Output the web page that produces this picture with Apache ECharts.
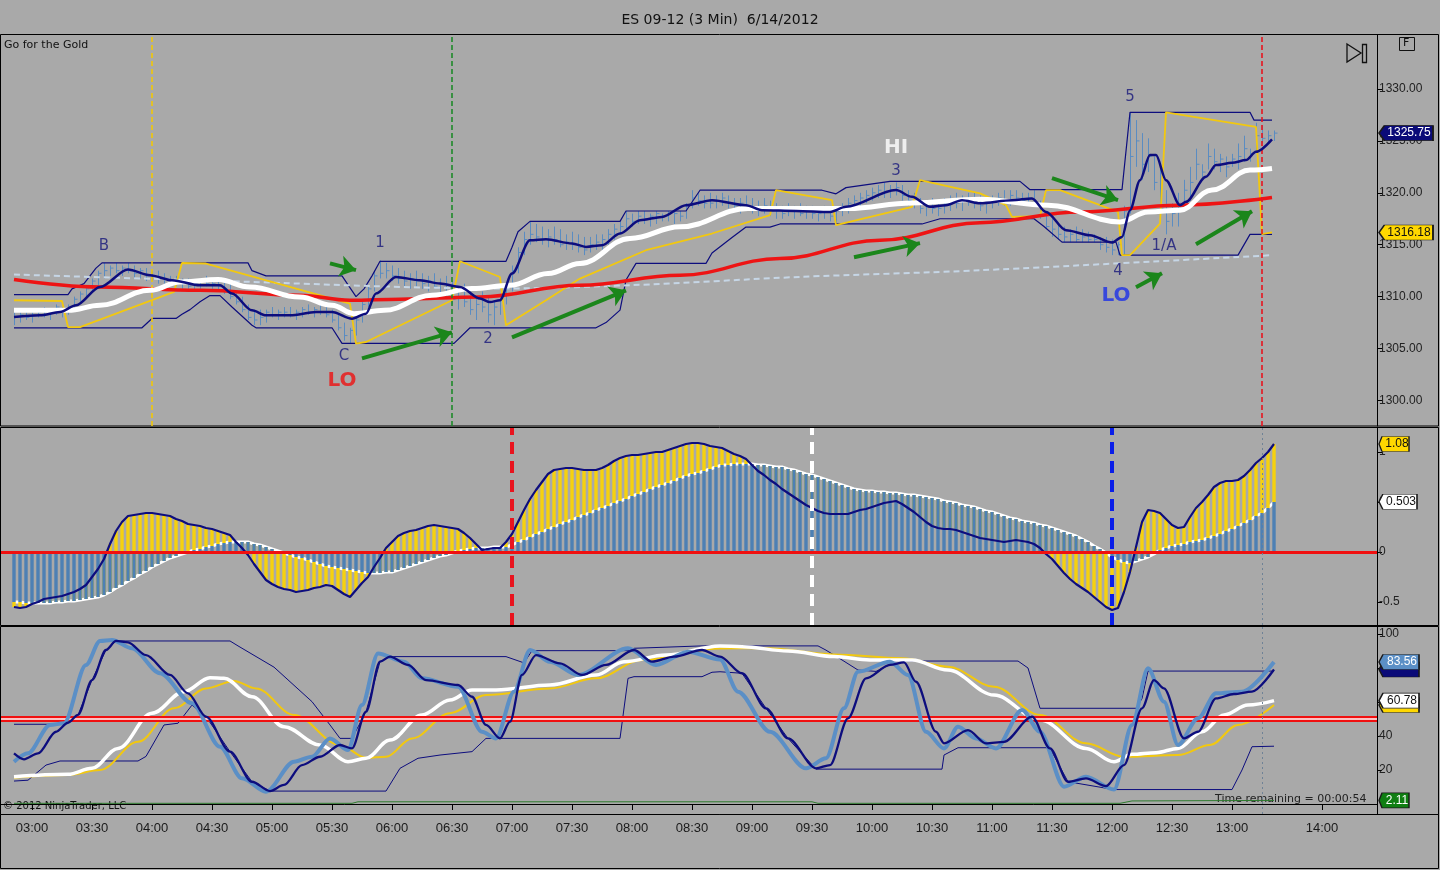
<!DOCTYPE html>
<html><head><meta charset="utf-8">
<script src="https://cdn.jsdelivr.net/npm/echarts/dist/echarts.min.js"></script>
<style>html,body{margin:0;padding:0;background:#a9a9a9;}#c{width:1440px;height:870px;}</style>
</head><body><div id="c"></div>
<script>
// ---------------- DATA ----------------
const chartTitle = 'ES 09-12 (3 Min)  6/14/2012';
const BAR_START = '02:51', BAR_STEP = 3; // 3-minute bars
const barHigh = [1308.75,1308.5,1308.75,1308.5,1308.75,1309,1308.75,1309.25,1309,1309.25,
1310,1310.5,1311,1311.75,1312.5,1313.25,1313,1313.25,1313,1313.25,
1313,1312.75,1312.75,1312.5,1312.5,1312.25,1312,1312,1311.75,1311.75,
1311.5,1311.75,1312,1311.75,1311.5,1311.5,1311.25,1310.5,1310,1309.25,
1308.75,1308.75,1308.75,1309,1308.75,1309,1309,1308.75,1309,1309.25,
1309,1309.25,1309,1308.75,1308.25,1307.5,1307,1308,1309.5,1311,
1312.5,1313.5,1313.25,1313,1312.75,1312.5,1312.25,1312.5,1312.25,1312,
1312.25,1311.75,1312,1311.5,1311,1311.25,1310.5,1310,1310.5,1310,
1309.5,1310.25,1311.25,1313,1314.75,1316.25,1317.25,1317,1316.75,1316.5,
1316.75,1316.5,1316,1316.25,1316,1315.75,1315.75,1316,1316,1316.5,
1317,1317.25,1318.25,1318,1318.25,1318.25,1318,1318.25,1318,1318.25,
1318.25,1318.25,1319,1320.25,1320,1319.75,1320,1319.75,1320,1319.75,
1319.5,1319.5,1319.75,1319.5,1319.25,1319.5,1319.25,1319,1318.75,1319,
1318.75,1319,1318.75,1318.75,1318.5,1318.75,1318.5,1318.5,1319,1319.5,
1319.75,1320,1320.25,1320.5,1320.75,1321,1320.75,1321,1320.75,1320.25,
1320,1319.5,1319.25,1319.5,1319.25,1319.5,1319.75,1320,1319.75,1320,
1320,1319.75,1319.5,1319.75,1320,1320.25,1320.25,1320.25,1320,1320,
1320.25,1319.25,1318.25,1317.5,1317,1316.75,1316.5,1316.75,1316.5,1316.25,
1316,1315.75,1315.75,1315.5,1315.25,1318.75,1327.75,1327,1325.75,1325.25,
1323.5,1322.75,1320.25,1319,1320,1321.25,1322.5,1324.25,1322.75,1324.75,
1324.25,1323.75,1323.5,1323.75,1324.75,1325.5,1324.25,1326.75,1326.5,1326,
1326];
const barLow = [1307.25,1307.5,1307.75,1307.5,1308,1308,1307.75,1308.25,1308,1308.25,
1308.75,1309.5,1309.75,1310.5,1311,1311.75,1312,1312.25,1312,1312.25,
1311.75,1311.75,1311.5,1311.5,1311.25,1311.25,1311,1311,1310.75,1310.75,
1310.5,1310.75,1311,1310.75,1310.5,1310.25,1309.75,1309.25,1308.5,1307.75,
1307.25,1307.25,1307.5,1308,1307.75,1308,1308,1307.75,1308,1308.25,
1308,1308.25,1308,1307.5,1306.75,1305.75,1305.5,1306.25,1307.5,1309,
1310.5,1311.75,1311.75,1311.5,1311.25,1311,1310.75,1311,1310.75,1310.5,
1310.75,1310.25,1310,1309.25,1308.75,1309,1308.25,1307.75,1308.5,1307.5,
1307.25,1308.25,1309.25,1310.5,1312.25,1314,1315,1315.25,1315,1314.75,
1315,1314.75,1314.5,1314.5,1314.25,1314,1314.25,1314.5,1314.5,1315,
1315.5,1316,1316.5,1316.75,1317,1317,1316.75,1317,1317.25,1317.25,
1317,1317.25,1317.5,1318.5,1318.75,1318.5,1318.5,1318.5,1318.75,1318.5,
1318.25,1318,1318.25,1318,1317.75,1318,1317.75,1317.5,1317.5,1317.75,
1317.5,1317.75,1317.5,1317.5,1317.25,1317.5,1317.25,1317,1317.75,1318,
1318.5,1318.75,1319,1319.25,1319.5,1319.5,1319.5,1319.75,1319.25,1318.75,
1318.5,1318,1317.75,1318,1317.75,1318,1318.25,1318.5,1318.25,1318.75,
1318.5,1318.25,1318,1318.5,1318.75,1318.75,1318.75,1319,1318.75,1318.75,
1318.75,1317.5,1316.5,1315.75,1315.5,1315.25,1315.25,1315.25,1315.25,1315.25,
1315.25,1314.5,1314.25,1314,1314,1314,1318,1322.5,1321.25,1322,
1320.25,1318,1316,1316.75,1316.75,1318.5,1319.25,1321.25,1321.5,1322.25,
1322.25,1322,1321.5,1322.5,1322.25,1323,1323,1324,1324.75,1324.75,
1325];
const barClose = [1308,1308.25,1308,1308.25,1308.5,1308.25,1308.5,1309,1308.5,1309,
1309.75,1310.25,1310.75,1311.5,1312.25,1312.5,1312.75,1312.5,1312.75,1312.5,
1312.25,1312.5,1312,1312,1311.75,1311.75,1311.5,1311.25,1311.25,1311,
1311.25,1311.5,1311.25,1311.25,1311,1310.75,1310,1309.5,1308.75,1308,
1307.75,1308,1308.5,1308.25,1308.5,1308.5,1308.25,1308.5,1308.75,1308.5,
1308.75,1308.5,1308.25,1307.75,1307,1306.25,1306.75,1307.75,1309.25,1310.75,
1312,1312.25,1312.5,1312,1311.75,1311.5,1311.75,1311.5,1311.25,1311.5,
1311,1311.25,1310.5,1309.75,1310.5,1309.5,1308.75,1309.25,1309,1308.25,
1309,1309.75,1310.75,1312.5,1314.25,1315.5,1316,1315.75,1315.5,1315.75,
1315.5,1315,1315.25,1315,1314.75,1314.5,1315,1315.25,1315.5,1316,
1316.5,1316.75,1317.5,1317.25,1317.75,1317.5,1317.75,1318,1317.75,1318,
1318,1317.75,1318.75,1319.5,1319.25,1319,1319,1319.25,1319.5,1319,
1318.75,1319,1318.75,1318.5,1318.5,1318.75,1318.25,1318.25,1318,1318.5,
1318.25,1318,1318.25,1318,1318,1318.25,1317.75,1318.25,1318.5,1319,
1319.25,1319.5,1319.75,1320,1320.25,1320,1320.25,1320.5,1319.75,1319.25,
1319,1318.5,1318.75,1318.5,1318.5,1319,1319.25,1319,1319.25,1319.5,
1319,1318.75,1319,1319.25,1319.5,1319.25,1319.75,1319.5,1319.25,1319.5,
1319,1317.75,1316.75,1316.5,1316,1315.75,1316,1315.5,1315.75,1315.5,
1315.5,1315,1314.75,1314.5,1315,1318.25,1323.5,1325,1322.75,1323.5,
1321,1318.5,1317.25,1318,1319,1320.25,1321,1322.75,1322,1323.5,
1323,1323.25,1322.5,1323.25,1323.5,1324.25,1323.75,1325.5,1325.25,1325.5,
1325.75];

// price overlays: [time, price]
const fastMa = [['02:51',1308.04],['03:04',1308.2],['03:14',1308.52],['03:22',1309.17],['03:34',1310.93],['03:48',1312.61],['03:59',1312.06],['04:10',1311.58],['04:24',1311.09],['04:34',1311.09],['04:40',1310.29],['04:50',1308.68],['04:57',1308.2],['05:09',1308.2],['05:22',1308.52],['05:30',1308.52],['05:40',1307.88],['05:47',1308.36],['05:52',1310.29],['06:02',1311.89],['06:14',1311.58],['06:24',1311.26],['06:34',1310.93],['06:44',1309.81],['06:49',1309.48],['06:54',1309.65],['07:00',1312.22],['07:09',1315.43],['07:17',1315.53],['07:30',1315.12],['07:37',1314.79],['07:45',1314.95],['07:54',1316.08],['08:04',1317.36],['08:15',1317.68],['08:27',1318.81],['08:40',1319.29],['08:57',1318.81],['09:05',1318.33],['09:22',1318.26],['09:39',1318.16],['09:47',1318.65],['10:12',1320.26],['10:20',1319.61],['10:29',1318.65],['10:37',1318.81],['10:45',1319.29],['10:54',1319.0],['11:10',1319.29],['11:20',1319.46],['11:27',1318.16],['11:37',1316.4],['11:49',1315.92],['12:00',1315.21],['12:05',1315.75],['12:09',1318.33],['12:14',1321.22],['12:19',1323.63],['12:22',1323.63],['12:27',1321.22],['12:34',1318.81],['12:37',1319.13],['12:47',1321.54],['12:52',1322.67],['13:00',1322.89],['13:07',1323.15],['13:12',1323.95],['13:20',1325.15]];
const whiteMa = [['02:51',1308.68],['03:18',1308.68],['03:34',1309.17],['03:59',1310.61],['04:14',1311.41],['04:33',1311.64],['04:49',1310.93],['05:14',1309.96],['05:30',1309.17],['05:41',1308.36],['05:56',1308.68],['06:20',1310.13],['06:40',1310.78],['06:59',1311.09],['07:18',1312.22],['07:34',1313.19],['07:59',1315.6],['08:24',1316.72],['08:58',1318.49],['09:30',1318.49],['09:48',1318.49],['10:20',1319.03],['10:54',1319.39],['11:28',1318.81],['12:04',1317.2],['12:18',1318.16],['12:34',1318.33],['12:50',1320.26],['13:09',1322.19],['13:20',1322.35]];
const redMa = [['02:51',1311.65],['03:34',1310.93],['04:24',1310.61],['05:14',1310.13],['05:39',1309.65],['06:04',1309.75],['06:44',1309.97],['07:34',1311.1],['08:24',1312.06],['09:14',1313.67],['10:04',1315.43],['10:54',1317.12],['11:44',1318.16],['12:34',1318.81],['13:20',1319.55]];
const slowMa = [['02:51',1312.13],['04:24',1311.58],['06:54',1310.78],['07:59',1311.1],['09:24',1311.9],['10:54',1312.54],['13:20',1313.99]];
const yellowTrail = [['02:51',1309.65],['03:15',1309.58],['03:18',1307.07],['03:24',1307.07],['04:11',1310.45],['04:15',1313.24],['04:27',1313.19],['05:39',1309.33],['05:42',1305.47],['05:47',1305.63],['06:30',1309.65],['06:34',1313.41],['06:54',1311.89],['06:57',1307.24],['07:17',1309.65],['07:34',1311.74],['08:07',1314.47],['08:40',1316.08],['09:09',1317.85],['09:12',1320.26],['09:40',1319.29],['09:42',1316.88],['10:20',1318.65],['10:24',1321.22],['10:54',1319.94],['11:07',1318.81],['11:10',1317.68],['11:24',1317.75],['11:27',1320.26],['11:34',1320.26],['12:03',1318.16],['12:05',1313.99],['12:09',1313.99],['12:24',1317.04],['12:27',1327.75],['13:12',1326.36],['13:15',1316.01],['13:20',1316.18]];
const channelUpper = [['02:51',1310.2],['03:18',1310.2],['03:20',1310.75],['03:26',1311.25],['03:32',1312.75],['03:35',1313.25],['04:48',1313.25],['04:50',1312.5],['04:57',1312.0],['05:35',1312.0],['05:42',1310.0],['05:46',1310.75],['05:50',1312.0],['05:54',1313.4],['06:57',1313.4],['07:00',1314.75],['07:03',1316.25],['07:09',1317.25],['07:54',1317.25],['07:57',1318.25],['08:27',1318.25],['08:34',1320.25],['09:35',1320.25],['09:42',1319.9],['09:47',1320.5],['10:09',1321.1],['11:14',1321.1],['11:19',1320.3],['12:05',1320.3],['12:09',1327.75],['13:09',1327.75],['13:11',1327.0],['13:20',1327.0]];
const channelLower = [['02:51',1307.0],['03:55',1307.0],['04:00',1307.9],['04:12',1307.9],['04:15',1308.3],['04:19',1308.75],['04:24',1309.5],['04:29',1310.1],['04:34',1310.1],['04:40',1309.0],['04:50',1307.25],['04:52',1307.0],['05:30',1307.0],['05:35',1305.5],['06:31',1305.5],['06:39',1307.0],['07:42',1307.0],['07:47',1307.5],['07:54',1308.7],['07:57',1311.6],['08:02',1313.2],['08:37',1313.2],['08:40',1314.2],['08:50',1315.7],['08:57',1316.7],['09:09',1316.7],['09:14',1317.0],['10:25',1317.0],['10:34',1317.5],['11:21',1317.5],['11:26',1316.75],['11:35',1315.25],['12:02',1315.25],['12:04',1314.0],['13:03',1314.0],['13:09',1316.0],['13:20',1316.0]];
const priceMarkers = [['04:00','yellow'],['06:30','green'],['13:15','red']];
const noteLabels = [['03:36',1314.9,'B'],['05:54',1315.2,'1'],['05:36',1304.3,'C'],['06:48',1305.9,'2'],['10:12',1322.1,'3'],['12:09',1329.2,'5'],['12:03',1312.5,'4'],['12:26',1314.85,'1/A']];
const bigLabels = [['05:35',1301.9,'LO','red'],['10:12',1324.3,'HI','white'],['12:02',1310.1,'LO','blue']];
const arrows = [['05:29',1313.2,'05:42',1312.55],['05:45',1304.06,'06:30',1306.56],['07:00',1306.08,'07:57',1310.61],['09:51',1313.79,'10:24',1315.15],['11:30',1321.42,'12:03',1319.29],['12:12',1310.9,'12:25',1312.25],['12:42',1315.05,'13:10',1318.23]];
const lastPrice = 1325.75, trailLast = 1316.18;

// MACD panel (one value per bar)
const macdLine = [-0.55,-0.56,-0.55,-0.52,-0.50,-0.47,-0.46,-0.45,-0.44,-0.42,
-0.40,-0.37,-0.33,-0.25,-0.17,-0.07,0.08,0.21,0.30,0.36,
0.37,0.38,0.39,0.39,0.38,0.37,0.36,0.33,0.31,0.28,
0.27,0.26,0.24,0.23,0.21,0.19,0.17,0.10,0.04,-0.03,
-0.12,-0.20,-0.28,-0.32,-0.35,-0.37,-0.38,-0.40,-0.39,-0.38,
-0.36,-0.35,-0.33,-0.34,-0.38,-0.42,-0.45,-0.38,-0.31,-0.25,
-0.15,-0.06,0.04,0.10,0.16,0.19,0.21,0.22,0.24,0.26,
0.27,0.26,0.25,0.24,0.23,0.19,0.14,0.08,0.02,0.03,
0.04,0.04,0.10,0.18,0.30,0.42,0.53,0.62,0.70,0.78,
0.82,0.83,0.84,0.84,0.83,0.82,0.82,0.82,0.84,0.87,
0.91,0.94,0.96,0.97,0.97,0.98,0.99,1.00,1.00,1.02,
1.04,1.06,1.08,1.09,1.09,1.08,1.06,1.05,1.04,1.01,
0.98,0.96,0.93,0.87,0.81,0.77,0.72,0.68,0.63,0.59,
0.55,0.51,0.47,0.44,0.41,0.39,0.38,0.38,0.38,0.38,
0.40,0.42,0.43,0.45,0.47,0.49,0.50,0.51,0.48,0.44,
0.40,0.35,0.30,0.26,0.24,0.23,0.23,0.22,0.20,0.18,
0.16,0.14,0.13,0.12,0.11,0.10,0.11,0.12,0.11,0.10,
0.08,0.04,-0.02,-0.07,-0.14,-0.21,-0.27,-0.32,-0.36,-0.40,
-0.45,-0.50,-0.55,-0.58,-0.56,-0.40,-0.20,0.05,0.30,0.42,
0.41,0.39,0.33,0.27,0.24,0.25,0.35,0.44,0.50,0.57,
0.65,0.69,0.71,0.71,0.72,0.76,0.82,0.89,0.94,1.00,
1.08];
const macdSignal = [-0.50,-0.50,-0.51,-0.51,-0.51,-0.51,-0.51,-0.50,-0.50,-0.49,
-0.49,-0.48,-0.47,-0.46,-0.45,-0.43,-0.40,-0.36,-0.33,-0.29,
-0.26,-0.22,-0.19,-0.15,-0.12,-0.09,-0.06,-0.04,-0.02,0.00,
0.02,0.03,0.05,0.06,0.08,0.09,0.10,0.10,0.10,0.10,
0.08,0.07,0.05,0.03,0.01,-0.01,-0.03,-0.05,-0.06,-0.08,
-0.10,-0.12,-0.14,-0.15,-0.16,-0.17,-0.18,-0.19,-0.20,-0.21,
-0.21,-0.21,-0.20,-0.20,-0.18,-0.16,-0.14,-0.12,-0.10,-0.08,
-0.06,-0.04,-0.03,-0.01,0.01,0.02,0.03,0.04,0.04,0.04,
0.05,0.05,0.05,0.07,0.10,0.12,0.15,0.18,0.20,0.23,
0.25,0.28,0.30,0.32,0.35,0.37,0.39,0.42,0.44,0.46,
0.49,0.51,0.53,0.56,0.58,0.60,0.63,0.65,0.67,0.69,
0.71,0.74,0.76,0.78,0.79,0.81,0.83,0.85,0.87,0.87,
0.88,0.88,0.88,0.88,0.87,0.87,0.86,0.85,0.85,0.83,
0.82,0.80,0.78,0.77,0.75,0.73,0.71,0.69,0.67,0.65,
0.63,0.62,0.61,0.61,0.60,0.60,0.59,0.59,0.58,0.57,
0.57,0.56,0.55,0.54,0.53,0.51,0.50,0.49,0.47,0.46,
0.45,0.43,0.41,0.40,0.38,0.36,0.34,0.33,0.31,0.30,
0.29,0.27,0.26,0.24,0.22,0.20,0.18,0.16,0.13,0.10,
0.06,0.03,-0.01,-0.05,-0.08,-0.10,-0.11,-0.09,-0.07,-0.05,
-0.02,0.02,0.04,0.06,0.07,0.08,0.10,0.11,0.12,0.14,
0.16,0.18,0.21,0.23,0.26,0.29,0.32,0.36,0.39,0.44,
0.50];
const macdMarkers = [['07:00','red'],['09:30','white'],['12:00','blue']];
const macdLast = 1.08, signalLast = 0.503;

// Stochastic panel: [time, value]
const stFast = [['02:51',24.9],['02:58',29.8],['03:09',46.5],['03:16',47.5],['03:27',81.8],['03:34',95.9],['03:40',96.5],['03:50',91.6],['04:04',76.9],['04:20',59.2],['04:34',33.7],['04:45',15.1],['04:57',7.2],['05:11',24.9],['05:20',27.8],['05:29',38.6],['05:38',31.8],['05:45',58.2],['05:53',88.6],['06:06',83.7],['06:15',73.9],['06:33',69.0],['06:45',42.5],['06:52',38.6],['07:01',66.1],['07:09',90.6],['07:19',83.7],['07:33',75.9],['07:58',91.6],['08:12',81.8],['08:28',89.6],['08:44',85.0],['08:53',66.1],['09:09',42.5],['09:27',21.0],['09:37',26.9],['09:46',56.3],['09:53',77.8],['10:09',83.7],['10:18',75.9],['10:27',42.5],['10:36',32.7],['10:43',45.5],['10:52',38.6],['11:02',32.7],['11:15',55.3],['11:24',42.5],['11:36',10.2],['11:47',16.1],['12:01',8.5],['12:10',46.5],['12:18',79.8],['12:26',60.2],['12:33',34.7],['12:43',50.4],['12:52',65.1],['13:05',66.1],['13:21',83.56]];
const stSlow = [['02:51',29.8],['02:56',26.3],['03:03',29.8],['03:12',42.5],['03:18',47.8],['03:23',52.4],['03:30',72.9],['03:37',90.6],['03:42',95.9],['03:48',95.1],['03:57',87.6],['04:09',75.9],['04:18',65.1],['04:27',51.4],['04:39',30.8],['04:50',13.1],['04:59',7.6],['05:06',11.2],['05:15',22.9],['05:24',27.8],['05:34',34.7],['05:40',32.7],['05:47',54.3],['05:54',83.7],['05:59',86.7],['06:08',81.8],['06:17',72.9],['06:33',70.0],['06:40',63.1],['06:47',46.5],['06:54',38.6],['06:59',48.4],['07:05',75.9],['07:12',87.6],['07:24',82.7],['07:35',75.9],['07:47',81.8],['08:01',90.6],['08:10',83.7],['08:21',86.7],['08:35',90.6],['08:44',86.7],['08:55',76.9],['09:07',56.3],['09:18',38.6],['09:32',21.0],['09:39',22.9],['09:48',50.4],['09:57',73.9],['10:09',81.8],['10:16',83.3],['10:22',71.9],['10:32',42.5],['10:36',35.7],['10:48',43.5],['10:57',35.7],['11:06',36.6],['11:20',51.4],['11:29',32.7],['11:38',13.1],['11:47',15.1],['11:57',10.5],['12:06',22.9],['12:15',56.3],['12:21',72.9],['12:26',68.0],['12:36',38.6],['12:43',42.5],['12:52',62.1],['13:01',64.7],['13:10',66.1],['13:21',79.12]];
const stWhite = [['02:51',16.1],['03:18',17.5],['03:30',21.0],['03:43',32.7],['04:00',53.4],['04:16',66.1],['04:29',74.3],['04:36',73.9],['04:50',63.1],['05:06',45.5],['05:24',34.7],['05:38',24.9],['05:47',26.9],['05:59',37.6],['06:15',52.4],['06:29',61.2],['06:40',67.1],['06:52',67.1],['07:19',70.0],['07:42',75.9],['07:56',83.7],['08:17',87.6],['08:44',93.0],['08:55',92.5],['09:18',90.0],['09:41',86.7],['09:59',84.7],['10:20',84.7],['10:38',78.8],['11:01',64.1],['11:24',49.4],['11:47',32.7],['12:01',24.9],['12:10',29.2],['12:22',30.2],['12:33',32.7],['12:45',42.5],['12:56',52.4],['13:08',58.2],['13:21',60.78]];
const stYellow = [['02:51',15.5],['03:18',17.1],['03:34',20.0],['03:53',36.6],['04:11',56.3],['04:27',68.0],['04:41',72.4],['04:52',68.0],['05:11',52.4],['05:34',34.7],['05:47',27.2],['05:57',27.8],['06:10',38.6],['06:29',53.4],['06:47',64.1],['07:19',68.0],['07:42',73.9],['08:05',84.7],['08:44',91.5],['09:07',91.6],['09:41',88.0],['10:15',85.7],['10:38',80.8],['11:01',69.0],['11:24',52.4],['11:47',35.7],['12:06',27.8],['12:33',28.8],['12:49',34.7],['13:03',46.5],['13:21',58.2]];
const stUpper = [['02:51',46.9],['03:12',46.9],['03:18',47.8],['03:23',52.4],['03:30',72.9],['03:37',90.6],['03:42',95.9],['04:39',95.9],['04:43',93.0],['05:01',80.5],['05:20',60.2],['05:29',46.5],['05:34',38.6],['05:40',38.6],['05:47',54.3],['05:54',83.7],['05:59',86.7],['06:57',86.7],['07:06',83.0],['07:10',90.2],['07:58',90.2],['08:01',91.6],['08:35',93.0],['09:33',93.0],['09:37',90.5],['09:46',84.0],['09:53',78.8],['10:02',78.0],['10:09',82.0],['10:12',84.1],['11:13',84.1],['11:18',80.0],['11:24',56.3],['12:12',56.3],['12:15',62.0],['12:18',78.2],['13:21',78.2]];
const stLower = [['02:51',13.5],['02:58',14.0],['03:07',22.9],['03:14',25.3],['03:53',25.3],['03:57',28.0],['04:06',46.5],['04:13',47.5],['04:20',58.2],['04:27',51.4],['04:39',30.8],['04:50',13.1],['04:59',7.6],['05:57',7.6],['06:04',21.0],['06:13',26.9],['06:24',28.8],['06:40',30.8],['06:47',38.6],['07:54',38.6],['07:58',73.9],['08:01',74.9],['08:35',74.9],['08:40',77.5],['08:44',77.8],['08:55',76.9],['09:07',56.3],['09:18',38.6],['09:32',20.5],['10:35',20.5],['10:36',28.8],['10:43',33.1],['11:27',33.1],['11:29',32.7],['11:38',13.1],['12:01',8.5],['13:00',8.5],['13:05',20.0],['13:10',33.7],['13:21',34.0]];
const stGreen = [['02:51',0.4],['05:40',0.4],['05:43',1.3],['09:30',1.3],['09:33',0.4],['12:04',0.4],['12:10',1.8],['13:21',2.11]];
const stMid = 50;
const stSlowLast = 79.12, stYellowLast = 58.2;

// axes
const priceTicks = [1300,1305,1310,1315,1320,1325,1330];
const macdTicks = [-0.5,0,0.5,1];
const stochTicks = [20,40,60,80,100];
const timeLabels = ['03:00','03:30','04:00','04:30','05:00','05:30','06:00','06:30','07:00','07:30','08:00','08:30','09:00','09:30','10:00','10:30','11:00','11:30','12:00','12:30','13:00','14:00'];
// where each label sits on the time scale (the platform squeezes its last label in after the session's final bar)
const timeLabelAt = ['03:00','03:30','04:00','04:30','05:00','05:30','06:00','06:30','07:00','07:30','08:00','08:30','09:00','09:30','10:00','10:30','11:00','11:30','12:00','12:30','13:00','13:45'];
const currentBar = '13:15';

// ---------------- HELPERS ----------------
const tm = s => { const p = s.split(':'); return (+p[0]) * 60 + (+p[1]); };
const pts = a => a.map(d => [tm(d[0]), d[1]]);
const barT = i => tm(BAR_START) + BAR_STEP * i;
const X_MIN = 164.5, X_MAX = 852.5;
const FONT = 'DejaVu Sans';
const AXFONT = 'Liberation Sans';
const C = { navy:'#0d0d7e', red:'#ee1414', yellow:'#f2c80f', white:'#ffffff', blue:'#1428e6', green:'#1b861b', steel:'#5b8fc6', bar:'#5a8cc2' };
const markerColor = { yellow:'#f0c808', green:'#1f8a2a', red:'#e8141e', white:'#ffffff', blue:'#0a1ee8' };
const labelColor = { red:'#ee1111', white:'#ffffff', blue:'#1b2fe8' };

function tag(val, text, bg, fg, w) {
  return { coord:[X_MAX, val], value:text,
    symbol:'path://M0,6L6,0L60,0L60,12L6,12Z', symbolKeepAspect:false,
    symbolSize:[w,15], symbolOffset:[w/2+2,0],
    itemStyle:{ color:bg, borderColor:'#1a1a1a', borderWidth:1 },
    label:{ show: text !== '', position:'inside', color:fg, fontSize:12, fontFamily:AXFONT, formatter:text, offset:[3,0] } };
}
function lineS(name, data, xi, color, width, z, extra) {
  return Object.assign({ name, type:'line', xAxisIndex:xi, yAxisIndex:xi, data, showSymbol:false, symbol:'none',
    lineStyle:{ color, width }, z, silent:true }, extra || {});
}
function vLines(list, width, dash) {
  return list.map(m => ({ xAxis: tm(m[0]), lineStyle:{ color: markerColor[m[1]], width, type: dash } }));
}

const chart = echarts.init(document.getElementById('c'), null, { renderer:'canvas' });

const series = [
  // ---- price panel ----
  { type:'custom', xAxisIndex:0, yAxisIndex:0, z:1, silent:true,
    data: barHigh.map((h,i) => [barT(i), h, barLow[i], barClose[i]]),
    encode:{ x:0, y:[1,2] },
    renderItem:(p, api) => {
      const x = api.value(0);
      const ph = api.coord([x, api.value(1)]), pl = api.coord([x, api.value(2)]), pc = api.coord([x, api.value(3)]);
      const xx = Math.round(ph[0]) + 0.5;
      return { type:'group', children:[
        { type:'line', shape:{ x1:xx, y1:ph[1], x2:xx, y2:pl[1] }, style:{ stroke:C.bar, lineWidth:1 } },
        { type:'line', shape:{ x1:xx, y1:pc[1], x2:xx+3, y2:pc[1] }, style:{ stroke:C.bar, lineWidth:1 } }
      ]};
    } },
  lineS('upper', pts(channelUpper), 0, C.navy, 1.2, 2),
  lineS('lower', pts(channelLower), 0, C.navy, 1.2, 2),
  lineS('slow', pts(slowMa), 0, '#c6d6e6', 2, 2, { lineStyle:{ color:'#c6d6e6', width:2, type:[6,4] }, smooth:0.3,
    markLine:{ silent:true, symbol:['none','none'], label:{show:false}, animation:false, data: vLines(priceMarkers, 1.6, [5,3]) } }),
  lineS('trail', pts(yellowTrail), 0, C.yellow, 1.8, 3, { markPoint:{ silent:true, animation:false, data:[ tag(trailLast, trailLast.toFixed(2), '#ffd800', '#111', 54) ] } }),
  lineS('red', pts(redMa), 0, C.red, 3.5, 4, { smooth:0.4, smoothMonotone:'x' }),
  lineS('white', pts(whiteMa), 0, C.white, 5, 5, { smooth:0.4, smoothMonotone:'x' }),
  lineS('fast', pts(fastMa), 0, C.navy, 2.5, 6, { smooth:0.3, smoothMonotone:'x',
    markPoint:{ silent:true, animation:false, data:[ tag(lastPrice, lastPrice.toFixed(2), '#0a0a78', '#fff', 54) ] } }),
  { type:'lines', coordinateSystem:'cartesian2d', xAxisIndex:0, yAxisIndex:0, z:7, silent:true,
    symbol:['none','arrow'], symbolSize:16,
    lineStyle:{ color:C.green, width:4, opacity:1, curveness:0 },
    data: arrows.map(a => ({ coords:[[tm(a[0]), a[1]], [tm(a[2]), a[3]]] })) },
  { type:'scatter', xAxisIndex:0, yAxisIndex:0, z:8, silent:true, symbolSize:1, itemStyle:{ color:'rgba(0,0,0,0)' },
    label:{ show:true, position:'inside', formatter:p => p.data[2], color:'#16167a', fontSize:15, fontFamily:FONT },
    data: noteLabels.map(d => [tm(d[0]), d[1], d[2]]) },
  { type:'scatter', xAxisIndex:0, yAxisIndex:0, z:8, silent:true, symbolSize:1, itemStyle:{ color:'rgba(0,0,0,0)' },
    data: bigLabels.map(d => ({ value:[tm(d[0]), d[1], d[2]],
      label:{ show:true, position:'inside', formatter:d[2], color:labelColor[d[3]], fontSize:20, fontWeight:'bold', fontFamily:FONT } })) },

  // ---- MACD panel ----
  lineS('signal', macdSignal.map((v,i) => [barT(i), v]), 1, C.white, 3, 1,
    { markPoint:{ silent:true, animation:false, data:[ tag(signalLast, String(signalLast), '#ffffff', '#111', 38) ] } }),
  { type:'custom', xAxisIndex:1, yAxisIndex:1, z:2, silent:true,
    data: macdLine.map((m,i) => [barT(i), m, macdSignal[i]]),
    encode:{ x:0, y:[1,2] },
    renderItem:(p, api) => {
      const x = api.value(0), m = api.value(1), s = api.value(2);
      const p0 = api.coord([x,0]), pm = api.coord([x,m]), ps = api.coord([x,s]);
      const w = 3.4, left = p0[0] - w/2;
      return { type:'group', children:[
        { type:'rect', shape:{ x:left, y:Math.min(pm[1],ps[1]), width:w, height:Math.abs(pm[1]-ps[1]) }, style:{ fill:'#f6d10e' } },
        { type:'rect', shape:{ x:left, y:Math.min(p0[1],ps[1]), width:w, height:Math.abs(p0[1]-ps[1]) }, style:{ fill:'#4d80b4' } }
      ]};
    } },
  lineS('macd', macdLine.map((v,i) => [barT(i), v]), 1, C.navy, 2.2, 4, {
    markLine:{ silent:true, symbol:['none','none'], label:{show:false}, animation:false,
      data: [ { yAxis:0, lineStyle:{ color:'#f01010', width:3, type:'solid' } } ]
        .concat(vLines(macdMarkers, 4, [12,7]))
        .concat([{ xAxis: tm(currentBar), lineStyle:{ color:'#6f8296', width:1, type:[2,3] } }]) },
    markPoint:{ silent:true, animation:false, data:[ tag(macdLast, macdLast.toFixed(2), '#ffd800', '#111', 30) ] } }),

  // ---- Stochastic panel ----
  lineS('green', pts(stGreen), 2, '#2d7a2d', 1, 2, {
    markLine:{ silent:true, symbol:['none','none'], label:{show:false}, animation:false,
      data:[ { yAxis:stMid, lineStyle:{ color:'#f01010', width:6, type:'solid' } },
             { yAxis:stMid, lineStyle:{ color:'#ffffff', width:1.6, type:'solid' } },
             { xAxis: tm(currentBar), lineStyle:{ color:'#6f8296', width:1, type:[2,3] } } ] },
    markPoint:{ silent:true, animation:false, data:[ tag(2.11, '2.11', '#0f7f12', '#fff', 30) ] } }),
  lineS('stUpper', pts(stUpper), 2, C.navy, 1, 2, { markPoint:{ silent:true, animation:false, data:[ tag(stSlowLast, '', '#0a0a78', '#fff', 40) ] } }),
  lineS('stLower', pts(stLower), 2, C.navy, 1, 2, { markPoint:{ silent:true, animation:false, data:[ tag(stYellowLast, '', '#ffd800', '#111', 40) ] } }),
  lineS('stYellow', pts(stYellow), 2, C.yellow, 2, 3, { smooth:0.35, smoothMonotone:'x' }),
  lineS('stWhite', pts(stWhite), 2, C.white, 3.5, 4, { smooth:0.35, smoothMonotone:'x',
    markPoint:{ silent:true, animation:false, data:[ tag(60.78, '60.78', '#ffffff', '#111', 40) ] } }),
  lineS('stFast', pts(stFast), 2, C.steel, 4, 5, { smooth:0.3, smoothMonotone:'x' }),
  lineS('stSlow', pts(stSlow), 2, C.navy, 2.3, 6, { smooth:0.3, smoothMonotone:'x',
    markPoint:{ silent:true, animation:false, data:[ tag(83.56, '83.56', '#5b8fc6', '#fff', 40) ] } })
];

const xAxisBase = { type:'value', min:X_MIN, max:X_MAX, splitLine:{show:false} };
const yAxisBase = (gi, min, max, ticks, fmt) => ({
  type:'value', gridIndex:gi, position:'right', min, max, splitLine:{show:false},
  axisLine:{ show:true, lineStyle:{ color:'#000', width:1 } },
  axisTick:{ show:true, length:5, lineStyle:{ color:'#000' }, customValues:ticks },
  axisLabel:{ show:true, margin:2, fontSize:12, color:'#222', fontFamily:AXFONT, customValues:ticks, formatter:fmt }
});

const option = {
  backgroundColor:'#a9a9a9',
  animation:false,
  title:{ text:chartTitle, left:'center', top:8, textStyle:{ fontSize:14, fontWeight:'normal', color:'#111', fontFamily:FONT } },
  grid:[
    { left:1, right:63, top:35, height:391 },
    { left:1, right:63, top:428, height:197 },
    { left:1, right:63, top:627, height:187 }
  ],
  xAxis:[
    Object.assign({ gridIndex:0, show:false }, xAxisBase),
    Object.assign({ gridIndex:1, show:false }, xAxisBase),
    Object.assign({ gridIndex:2, show:true, position:'bottom',
      axisLine:{ show:true, lineStyle:{ color:'#000' } },
      axisTick:{ show:true, length:6, lineStyle:{ color:'#000' }, customValues: timeLabelAt.map(tm) },
      axisLabel:{ show:true, margin:8, fontSize:13, color:'#1a1a1a', fontFamily:AXFONT,
        customValues: timeLabelAt.map(tm),
        formatter: v => { const i = timeLabelAt.map(tm).indexOf(v); return i >= 0 ? timeLabels[i] : ''; } } }, xAxisBase)
  ],
  yAxis:[
    yAxisBase(0, 1297.54, 1335.2, priceTicks, v => v.toFixed(2)),
    yAxisBase(1, -0.73, 1.24, macdTicks, v => String(v)),
    yAxisBase(2, -5.88, 104.12, stochTicks, v => String(v))
  ],
  graphic:{ elements:[
    { type:'rect', silent:true, z:0, shape:{ x:0.5, y:34.5, width:1438, height:391.5 }, style:{ fill:'none', stroke:'#000', lineWidth:1 } },
    { type:'rect', silent:true, z:0, shape:{ x:0.5, y:427.5, width:1438, height:198 }, style:{ fill:'none', stroke:'#000', lineWidth:1 } },
    { type:'rect', silent:true, z:0, shape:{ x:0.5, y:626.5, width:1438, height:188 }, style:{ fill:'none', stroke:'#000', lineWidth:1 } },
    { type:'rect', silent:true, z:0, shape:{ x:0.5, y:814.5, width:1438, height:54 }, style:{ fill:'none', stroke:'#000', lineWidth:1 } },
    { type:'text', silent:true, left:4, top:40, style:{ text:'Go for the Gold', fontSize:11, fill:'#111', fontFamily:FONT } },
    { type:'text', silent:true, left:3, top:801, style:{ text:'© 2012 NinjaTrader, LLC', fontSize:10, fill:'#111', fontFamily:FONT } },
    { type:'text', silent:true, left:1215, top:794, style:{ text:'Time remaining = 00:00:54', fontSize:11, fill:'#222', fontFamily:FONT } },
    { type:'polygon', silent:true, shape:{ points:[[1347,44],[1361,53],[1347,62]] }, style:{ fill:'none', stroke:'#111', lineWidth:1.3 } },
    { type:'rect', silent:true, shape:{ x:1362.5, y:44.5, width:4, height:18 }, style:{ fill:'none', stroke:'#111', lineWidth:1.3 } },
    { type:'rect', silent:true, shape:{ x:1399.5, y:37.5, width:15, height:13 }, style:{ fill:'none', stroke:'#111', lineWidth:1 } },
    { type:'text', silent:true, left:1403, top:38, style:{ text:'F', fontSize:11, fill:'#111', fontFamily:FONT } }
  ]},
  series
};
chart.setOption(option);
</script></body></html>
